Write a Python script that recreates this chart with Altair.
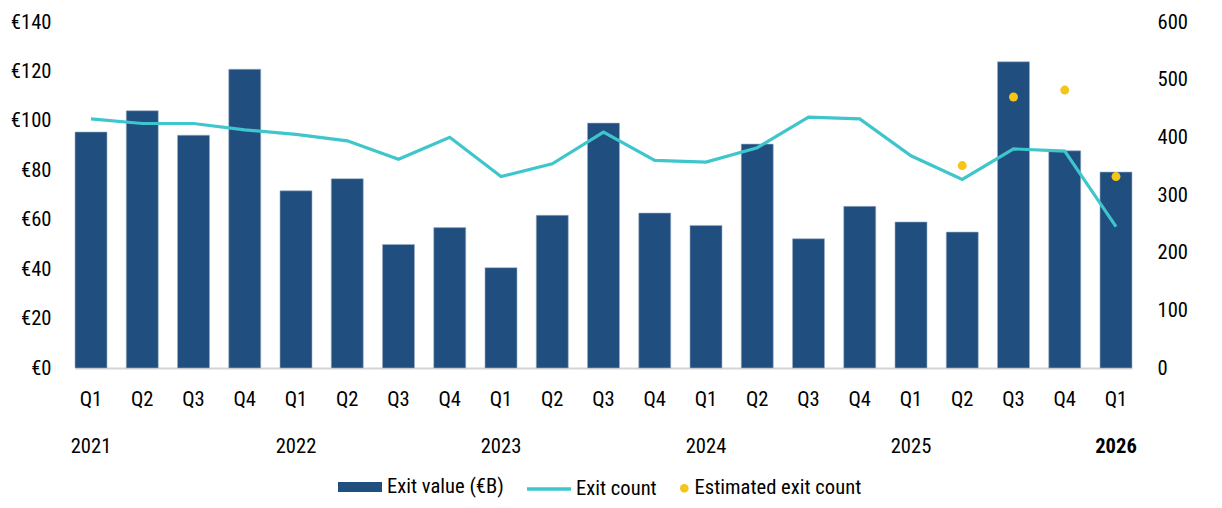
import altair as alt
import pandas as pd

# Quarterly exits, Q1 2021 – Q1 2026
years = ["2021"] * 4 + ["2022"] * 4 + ["2023"] * 4 + ["2024"] * 4 + ["2025"] * 4 + ["2026"]
quarters = ["Q1", "Q2", "Q3", "Q4"] * 5 + ["Q1"]

exit_value = [95.5, 104.1, 94.2, 120.9, 71.7, 76.6, 50.0, 56.8, 40.6, 61.8, 99.1,
              62.7, 57.7, 90.6, 52.3, 65.4, 59.1, 55.0, 123.9, 87.9, 79.3]
exit_count = [432, 424, 424, 413, 405, 394, 362, 400, 332, 354, 409,
              360, 357, 382, 435, 432, 368, 327, 380, 376, 245]
estimated_count = [None] * 17 + [351, 470, 482, 332]

periods = [f"{y} {q}" for y, q in zip(years, quarters)]
latest_year = years[-1]

df = pd.DataFrame({
    "period": periods,
    "year": years,
    "quarter": quarters,
    "value": exit_value,
    "count": exit_count,
    "estimated": estimated_count,
})
df["bar_series"] = "Exit value (€B)"
df["line_series"] = "Exit count"
df["est_series"] = "Estimated exit count"

FONT = "Roboto Condensed, Liberation Sans Narrow, DejaVu Sans Condensed, Roboto"
FS = 20.6
NAVY = "#1f4e7f"
TEAL = "#3ec6cc"
GOLD = "#f5c518"
PLOT_H = 346

x_enc = alt.X(
    "period:N",
    sort=periods,
    title=None,
    scale=alt.Scale(paddingInner=0.3756, paddingOuter=0),
    axis=alt.Axis(
        labelExpr="split(datum.value, ' ')[1]",
        labelAngle=0,
        ticks=False,
        domainColor="#d4d4d4",
        domainWidth=2,
        labelPadding=21,
    ),
)

bars = alt.Chart(df).mark_bar(stroke="#9fb1c8", strokeWidth=0.6).encode(
    x=x_enc,
    y=alt.Y(
        "value:Q",
        title=None,
        scale=alt.Scale(domain=[0, 140], nice=False),
        axis=alt.Axis(
            values=[0, 20, 40, 60, 80, 100, 120, 140],
            labelExpr="'€' + datum.value",
            domain=False,
            ticks=False,
            grid=False,
            labelPadding=24,
        ),
    ),
    color=alt.Color(
        "bar_series:N",
        scale=alt.Scale(domain=["Exit value (€B)"], range=[NAVY]),
        legend=alt.Legend(
            title=None,
            orient="none",
            legendX=263,
            legendY=443,
            direction="horizontal",
            symbolType="M-1,-0.23H1V0.23H-1Z",
            symbolSize=1936,
            symbolStrokeWidth=0,
            labelOffset=5,
            labelLimit=400,
        ),
    ),
)

# Year captions under the first quarter of each year; the latest year in bold
year_base = alt.Chart(df).transform_filter("datum.quarter == 'Q1'")
year_text = year_base.transform_filter(
    f"datum.year != '{latest_year}'"
).mark_text(font=FONT, fontSize=FS, baseline="middle", color="#000000").encode(
    x=x_enc, y=alt.value(PLOT_H + 79), text="year:N"
)
year_text_bold = year_base.transform_filter(
    f"datum.year == '{latest_year}'"
).mark_text(font=FONT, fontSize=FS, fontWeight="bold", baseline="middle", color="#000000").encode(
    x=x_enc, y=alt.value(PLOT_H + 79), text="year:N"
)

right_axis = alt.Axis(
    values=[0, 100, 200, 300, 400, 500, 600],
    orient="right",
    domain=False,
    ticks=False,
    grid=False,
    labelPadding=25,
)
count_scale = alt.Scale(domain=[0, 600], nice=False)

line = alt.Chart(df).mark_line(strokeWidth=3.2).encode(
    x=x_enc,
    y=alt.Y("count:Q", title=None, scale=count_scale, axis=right_axis),
    stroke=alt.Stroke(
        "line_series:N",
        scale=alt.Scale(domain=["Exit count"], range=[TEAL]),
        legend=alt.Legend(
            title=None,
            orient="none",
            legendX=450,
            legendY=443,
            direction="horizontal",
            symbolType="stroke",
            symbolSize=1936,
            symbolStrokeWidth=3.6,
            labelOffset=3,
            labelLimit=400,
        ),
    ),
)

points = alt.Chart(df).transform_filter(
    "isValid(datum.estimated)"
).mark_circle(size=80, opacity=1).encode(
    x=x_enc,
    y=alt.Y("estimated:Q", title=None, scale=count_scale, axis=right_axis),
    fill=alt.Fill(
        "est_series:N",
        scale=alt.Scale(domain=["Estimated exit count"], range=[GOLD]),
        legend=alt.Legend(
            title=None,
            orient="none",
            legendX=599,
            legendY=456,
            direction="horizontal",
            symbolType="circle",
            symbolSize=75,
            labelOffset=0,
            labelLimit=400,
        ),
    ),
)

chart = alt.layer(
    bars, year_text, year_text_bold, alt.layer(line, points)
).resolve_scale(
    y="independent"
).properties(
    width=1057,
    height=PLOT_H,
    autosize=alt.AutoSizeParams(type="none"),
    padding={"left": 75, "top": 22, "right": 90, "bottom": 140},
).configure_view(
    stroke=None
).configure_axis(
    labelFont=FONT,
    labelFontSize=FS,
    labelColor="#000000",
).configure_legend(
    labelFont=FONT,
    labelFontSize=FS,
    labelColor="#000000",
)

chart.save("out.html", embed_options={"renderer": "svg", "actions": False})
